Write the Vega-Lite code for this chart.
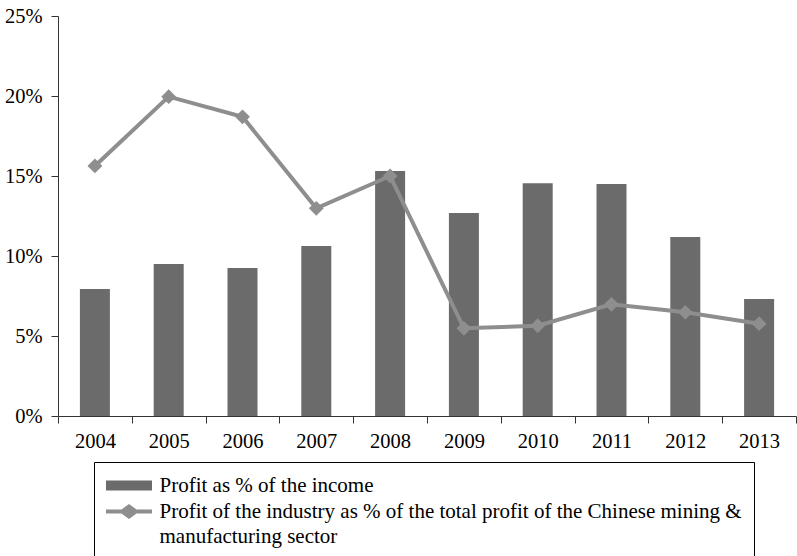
{
  "$schema": "https://vega.github.io/schema/vega-lite/v6.json",
  "autosize": {"type": "none"},
  "padding": {"left": 58, "top": 16, "right": 1, "bottom": 140},
  "width": 738,
  "height": 400,
  "background": "white",
  "config": {
    "view": {"stroke": null},
    "font": "Liberation Serif",
    "axis": {"labelFont": "Liberation Serif", "labelFontSize": 20.5, "labelColor": "#000", "domainColor": "#333", "tickColor": "#333", "grid": false, "title": null, "tickSize": 7},
    "legend": {"labelFont": "Liberation Serif", "labelFontSize": 21, "labelColor": "#000"}
  },
  "data": {
    "values": [
      {"year": "2004", "income": 0.0794, "share": 0.1563},
      {"year": "2005", "income": 0.095, "share": 0.1996},
      {"year": "2006", "income": 0.0925, "share": 0.187},
      {"year": "2007", "income": 0.1062, "share": 0.1298},
      {"year": "2008", "income": 0.1531, "share": 0.15},
      {"year": "2009", "income": 0.1269, "share": 0.0548},
      {"year": "2010", "income": 0.1454, "share": 0.0564},
      {"year": "2011", "income": 0.145, "share": 0.0698},
      {"year": "2012", "income": 0.1119, "share": 0.0648},
      {"year": "2013", "income": 0.0731, "share": 0.0577}
    ]
  },
  "encoding": {
    "x": {
      "field": "year", "type": "nominal",
      "scale": {"paddingInner": 0, "paddingOuter": 0},
      "axis": {"labelAngle": 0, "tickBand": "extent", "labelPadding": 8, "domainWidth": 1}
    }
  },
  "layer": [
    {
      "mark": {"type": "bar", "size": 30},
      "encoding": {
        "y": {
          "field": "income", "type": "quantitative",
          "scale": {"domain": [0, 0.25], "nice": false},
          "axis": {"format": ".0%", "values": [0, 0.05, 0.1, 0.15, 0.2, 0.25], "labelPadding": 9}
        },
        "color": {
          "datum": "Profit as % of the income",
          "scale": {
            "domain": ["Profit as % of the income", "Profit of the industry as % of the total profit of the Chinese mining & manufacturing sector"],
            "range": ["#6b6b6b", "#8e8e8e"]
          },
          "legend": {
            "title": null,
            "orient": "none",
            "legendX": 36,
            "legendY": 446,
            "padding": 12,
            "strokeColor": "#000",
            "fillColor": "white",
            "symbolSize": 529,
            "symbolOffset": 11.5,
            "symbolStrokeWidth": 0,
            "labelOffset": 19,
            "labelLimit": 1000,
            "rowPadding": 4,
            "labelExpr": "datum.label == 'Profit as % of the income' ? datum.label : ['Profit of the industry as % of the total profit of the Chinese mining &', 'manufacturing sector']",
            "labelBaseline": "top",
            "encode": {
              "labels": {"update": {"dy": {"value": -11}, "lineHeight": {"value": 25}}},
              "symbols": {
                "update": {
                  "shape": {"signal": "datum.value == 'Profit as % of the income' ? 'M-2,-0.44H2V0.44H-2Z' : 'M-2,-0.17H-0.66L0,-0.66L0.66,-0.17H2V0.17H0.66L0,0.66L-0.66,0.17H-2Z'"},
                  "strokeWidth": {"value": 0}
                }
              }
            }
          }
        }
      }
    },
    {
      "mark": {"type": "line", "strokeWidth": 4, "point": {"shape": "diamond", "size": 220, "filled": true, "opacity": 1}},
      "encoding": {
        "y": {"field": "share", "type": "quantitative", "scale": {"domain": [0, 0.25], "nice": false}},
        "color": {"datum": "Profit of the industry as % of the total profit of the Chinese mining & manufacturing sector"}
      }
    }
  ]
}
